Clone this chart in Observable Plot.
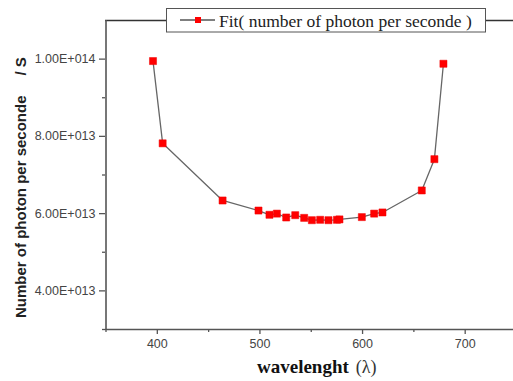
<!DOCTYPE html>
<html><head><meta charset="utf-8">
<script src="https://cdn.jsdelivr.net/npm/d3@7"></script>
<script src="https://cdn.jsdelivr.net/npm/@observablehq/plot@0.6"></script>
<style>body{margin:0;background:#fff}</style>
</head><body><div id="chart"></div>
<script>
const wavelength = [395.8, 405.2, 463.6, 498.6, 509.3, 516.5, 525.6, 534.4, 543.1, 550.6, 558.7, 566.8, 575, 577.5, 599.3, 611.3, 619.4, 657.7, 670, 678.8];
const photons = [9.95e13, 7.82e13, 6.34e13, 6.08e13, 5.97e13, 6.0e13, 5.9e13, 5.96e13, 5.89e13, 5.83e13, 5.84e13, 5.83e13, 5.84e13, 5.85e13, 5.91e13, 6.0e13, 6.03e13, 6.6e13, 7.41e13, 9.88e13];
const xMajor = [400, 500, 600, 700];
const xMinor = [350, 450, 550, 650, 750];
const yMajor = [4e13, 6e13, 8e13, 1e14];
const yMinor = [3e13, 5e13, 7e13, 9e13];
const yTickLabels = ["4.00E+013", "6.00E+013", "8.00E+013", "1.00E+014"];
const legendLabel = "Fit( number of photon per seconde )";
const yLabelMain = "Number of photon per seconde";
const yLabelUnit = "/ S";
const xLabelMain = "wavelenght";
const xLabelUnit = "(λ)";

const data = wavelength.map((w, i) => ({w, p: photons[i]}));
const axisColor = "#555";
const plot = Plot.plot({
  width: 513, height: 381,
  marginLeft: 105, marginTop: 20, marginBottom: 52, marginRight: 0,
  style: {fontFamily: "'Liberation Sans', Arial, sans-serif", fontSize: "12px", color: "#444", background: "#fff"},
  x: {domain: [350, 750], range: [105.5, 516]},
  y: {domain: [3e13, 1.1e14], range: [329, 20]},
  marks: [
    Plot.axisX({ticks: xMajor, tickSize: 5, tickPadding: 5, tickFormat: d => String(d), stroke: axisColor, strokeWidth: 1.3, fill: "#444", fontSize: 12.5, label: null}),
    Plot.axisX({ticks: xMinor, tickSize: 3, tickFormat: () => "", stroke: axisColor, strokeWidth: 1.3, label: null}),
    Plot.axisY({ticks: yMajor, tickSize: 6, tickPadding: 4, tickFormat: d => yTickLabels[yMajor.indexOf(d)], stroke: axisColor, strokeWidth: 1.3, fill: "#444", fontSize: 12.5, label: null}),
    Plot.axisY({ticks: yMinor, tickSize: 3, tickFormat: () => "", stroke: axisColor, strokeWidth: 1.3, label: null}),
    Plot.ruleY([3e13], {stroke: axisColor, strokeWidth: 1.6}),
    Plot.ruleY([1.1e14], {stroke: "#333", strokeWidth: 1.6}),
    Plot.ruleX([350], {stroke: axisColor, strokeWidth: 1.6}),
    Plot.line(data, {x: "w", y: "p", stroke: "#666", strokeWidth: 1.3}),
    Plot.dot(data, {x: "w", y: "p", symbol: "square", r: 4, fill: "#f00", stroke: "#e00", strokeWidth: 0.5})
  ]
});

const svg = d3.select(plot);
// y axis title
const yt = svg.append("text")
  .attr("transform", "translate(26,318) rotate(-90)")
  .attr("text-anchor", "start")
  .attr("font-family", "'Liberation Sans', Arial, sans-serif")
  .attr("font-weight", "bold").attr("font-size", 15).attr("fill", "#222");
yt.append("tspan").text(yLabelMain);
yt.append("tspan").attr("dx", 20).text(yLabelUnit);
// x axis title
const xt = svg.append("text").attr("x", 257).attr("y", 373).attr("text-anchor", "start").attr("fill", "#111");
xt.append("tspan").attr("font-family", "'Liberation Serif', 'Times New Roman', serif").attr("font-weight", "bold").attr("font-size", 19).text(xLabelMain);
xt.append("tspan").attr("dx", 7).attr("font-family", "'Liberation Serif', 'Times New Roman', serif").attr("font-size", 18).attr("fill", "#333").text(xLabelUnit);
// legend
const lg = svg.append("g");
lg.append("rect").attr("x", 166.5).attr("y", 8.5).attr("width", 319).attr("height", 23.5).attr("fill", "#fff").attr("stroke", "#555").attr("stroke-width", 1);
lg.append("line").attr("x1", 180).attr("x2", 215).attr("y1", 20).attr("y2", 20).attr("stroke", "#555").attr("stroke-width", 1.3);
lg.append("rect").attr("x", 198 - 3).attr("y", 20 - 3).attr("width", 6).attr("height", 6).attr("fill", "#f00");
lg.append("text").attr("x", 219).attr("y", 27).attr("text-anchor", "start").attr("font-family", "'Liberation Serif', 'Times New Roman', serif").attr("font-size", 17.5).attr("fill", "#222").text(legendLabel);

document.getElementById("chart").appendChild(plot);
</script>
</body></html>
